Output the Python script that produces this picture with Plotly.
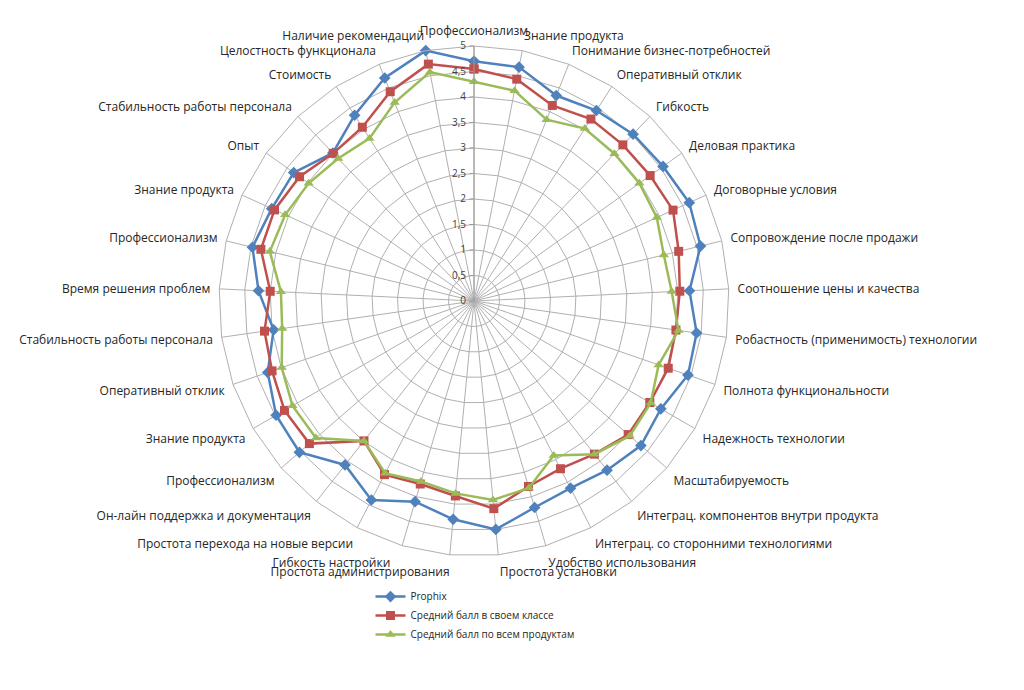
import plotly.graph_objects as go

categories = [
    "Профессионализм", "Знание продукта", "Понимание бизнес-потребностей",
    "Оперативный отклик", "Гибкость", "Деловая практика", "Договорные условия",
    "Сопровождение после продажи", "Соотношение цены и качества",
    "Робастность (применимость) технологии", "Полнота функциональности",
    "Надежность технологии", "Масштабируемость",
    "Интеграц. компонентов внутри продукта", "Интеграц. со сторонними технологиями",
    "Удобство использования", "Простота установки", "Простота администрирования",
    "Гибкость настройки", "Простота перехода на новые версии",
    "Он-лайн поддержка и документация", "Профессионализм", "Знание продукта",
    "Оперативный отклик", "Стабильность работы персонала", "Время решения проблем",
    "Профессионализм", "Знание продукта", "Опыт", "Стабильность работы персонала",
    "Стоимость", "Целостность функционала", "Наличие рекомендаций",
]

prophix = [4.70, 4.67, 4.34, 4.44, 4.52, 4.55, 4.64, 4.57, 4.23, 4.41, 4.44,
           4.23, 4.33, 4.22, 4.13, 4.22, 4.50, 4.30, 4.10, 4.39, 4.09, 4.53,
           4.48, 4.28, 3.97, 4.23, 4.47, 4.36, 4.34, 4.01, 4.33, 4.71, 5.00]
class_avg = [4.55, 4.43, 4.13, 4.24, 4.23, 4.24, 4.29, 4.13, 4.04, 4.00, 4.03,
             3.98, 4.00, 3.82, 3.70, 3.79, 4.09, 3.84, 3.74, 3.83, 3.49, 4.27,
             4.29, 4.19, 4.15, 4.00, 4.30, 4.30, 4.20, 4.00, 4.05, 4.42, 4.73]
all_avg = [4.30, 4.20, 3.83, 4.02, 3.99, 3.98, 3.94, 3.83, 3.88, 4.05, 3.83,
           4.00, 4.04, 3.82, 3.41, 3.82, 3.92, 3.79, 3.69, 3.80, 3.49, 4.10,
           4.11, 3.99, 3.80, 3.79, 4.12, 4.07, 3.98, 3.86, 3.79, 4.19, 4.57]

series_names = ["Prophix", "Средний балл в своем классе", "Средний балл по всем продуктам"]
radial_ticks = [0, 0.5, 1, 1.5, 2, 2.5, 3, 3.5, 4, 4.5, 5]
radial_ticktext = ["0", "0,5", "1", "1,5", "2", "2,5", "3", "3,5", "4", "4,5", "5"]

# make duplicate labels unique for the categorical axis
seen = {}
theta = []
for c in categories:
    n = seen.get(c, 0)
    theta.append(c + "\u200b" * n)
    seen[c] = n + 1

# displayed tick text; the bottom labels are nudged apart like in the original
NB = "\u00a0"
ticktext = list(categories)
ticktext[16] = NB * 38 + categories[16]
ticktext[17] = categories[17] + NB * 57
ticktext[18] = categories[18] + NB * 3

def closed(lst):
    return list(lst) + [lst[0]]

colors = ["#4F81BD", "#C0504D", "#9BBB59"]
symbols = ["diamond", "square", "triangle-up"]
sizes = [9, 9, 9]

fig = go.Figure()
for name, vals, col, sym, sz in zip(series_names, [prophix, class_avg, all_avg], colors, symbols, sizes):
    fig.add_trace(go.Scatterpolar(
        r=closed(vals), theta=closed(theta), name=name,
        mode="lines+markers",
        line=dict(color=col, width=2.5),
        marker=dict(symbol=sym, size=sz, color=col),
    ))

fig.update_layout(
    width=1024, height=690,
    paper_bgcolor="white", plot_bgcolor="white",
    margin=dict(l=0, r=0, t=0, b=0),
    font=dict(family="Open Sans", size=12, color="#262626"),
    polar=dict(
        domain=dict(x=[211 / 1024, 721 / 1024], y=[142 / 690, 652 / 690]),
        bgcolor="white",
        gridshape="linear",
        angularaxis=dict(
            type="category", rotation=90, direction="clockwise",
            categoryorder="array", categoryarray=theta,
            tickvals=theta, ticktext=ticktext,
            showgrid=True, gridcolor="#b0b0b0", gridwidth=1,
            showline=True, linecolor="#b0b0b0", linewidth=1,
            ticks="outside", ticklen=6, tickcolor="rgba(0,0,0,0)",
            tickfont=dict(family="Open Sans", size=12, color="#262626"),
        ),
        radialaxis=dict(
            range=[0, 5], angle=90, side="counterclockwise",
            tickvals=radial_ticks, ticktext=radial_ticktext,
            showgrid=True, gridcolor="#b0b0b0", gridwidth=1,
            showline=True, linecolor="#9a9a9a", linewidth=1,
            ticks="outside", ticklen=4, tickcolor="#9a9a9a",
            tickfont=dict(family="Open Sans", size=10, color="#404040"),
            tickangle=90,
        ),
    ),
    legend=dict(
        x=0.354, y=0.168, xanchor="left", yanchor="top",
        font=dict(family="Open Sans", size=10, color="#262626"),
        bgcolor="rgba(0,0,0,0)", tracegroupgap=6, itemwidth=30,
    ),
)

fig.write_html("out.html")
